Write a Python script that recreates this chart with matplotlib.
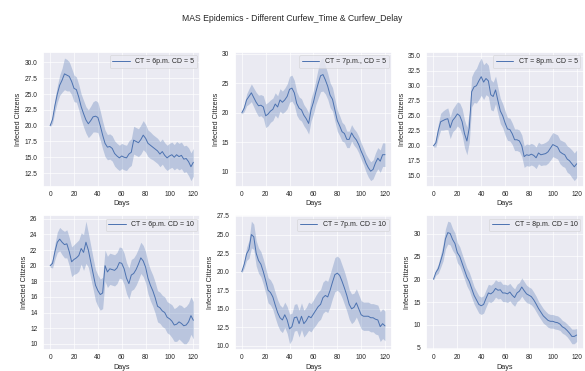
import numpy as np
import matplotlib
matplotlib.use("Agg")
import matplotlib.pyplot as plt
from matplotlib.ticker import MultipleLocator
import seaborn as sns

days = list(range(0, 121, 2))

labels = ["CT = 6p.m. CD = 5", "CT = 7p.m., CD = 5", "CT = 8p.m. CD = 5",
          "CT = 6p.m. CD = 10", "CT = 7p.m. CD = 10", "CT = 8p.m. CD = 10"]

# mean infected citizens (every second day)
ct6_cd5 = [20.0, 21.0, 23.2, 25.0, 26.4, 27.2, 28.2, 28.0, 27.8, 27.0,
           25.9, 25.7, 24.5, 23.0, 21.9, 20.9, 20.3, 20.8, 21.4, 21.5,
           21.3, 20.0, 18.5, 17.2, 16.6, 16.7, 16.4, 15.6, 15.2, 14.9,
           15.2, 15.0, 14.9, 15.5, 15.8, 17.7, 17.5, 17.3, 17.8, 18.5,
           18.0, 17.2, 16.9, 16.6, 16.3, 16.0, 15.5, 15.9, 15.3, 14.9,
           15.2, 15.4, 15.0, 15.4, 15.1, 15.3, 14.7, 14.8, 14.3, 13.5, 14.2]
ct7_cd5 = [20.0, 20.8, 22.2, 22.8, 23.4, 22.6, 21.8, 21.2, 21.3, 21.0,
           19.5, 19.8, 20.3, 20.6, 21.5, 21.0, 22.2, 21.8, 22.2, 22.8,
           24.0, 24.2, 23.4, 21.6, 20.8, 20.5, 19.6, 19.0, 18.2, 20.5,
           21.8, 23.5, 25.0, 26.3, 26.5, 25.6, 24.5, 23.0, 22.3, 20.5,
           18.7, 17.8, 16.8, 16.5, 15.5, 15.5, 16.6, 15.9, 15.4, 14.6,
           13.5, 12.6, 11.5, 10.7, 10.1, 10.4, 11.5, 12.3, 11.8, 12.9, 12.9]
ct8_cd5 = [20.0, 20.5, 22.5, 24.0, 24.2, 24.4, 24.5, 23.0, 24.2, 24.7,
           25.3, 25.0, 24.0, 22.0, 20.8, 23.0, 29.0, 29.8, 30.0, 30.8,
           31.5, 30.6, 31.2, 30.8, 28.5, 28.2, 29.3, 27.5, 25.8, 25.0,
           23.8, 22.8, 22.7, 22.0, 21.0, 21.0, 20.8, 20.0, 18.2, 18.5,
           18.4, 18.6, 18.4, 18.0, 18.8, 18.5, 18.6, 18.7, 19.0, 19.6,
           20.2, 20.0, 19.8, 19.0, 18.7, 18.5, 17.8, 17.5, 17.0, 16.5, 17.0]
ct6_cd10 = [20.0, 20.3, 21.8, 23.0, 23.4, 23.0, 22.7, 22.8, 21.8, 20.5,
            20.8, 21.0, 21.3, 22.2, 21.7, 23.0, 22.0, 20.5, 19.0, 17.5,
            16.8, 16.3, 16.5, 20.0, 19.2, 19.6, 19.5, 19.4, 19.7, 20.4,
            20.3, 19.6, 18.4, 17.7, 18.8, 19.0, 19.5, 20.2, 21.0, 20.6,
            19.8, 18.4, 17.5, 16.8, 15.9, 14.8, 14.6, 14.2, 14.0, 13.4,
            13.2, 12.9, 12.4, 12.5, 12.8, 12.6, 12.3, 12.4, 12.8, 13.6, 13.0]
ct7_cd10 = [20.0, 21.0, 22.4, 23.0, 25.0, 24.7, 22.5, 21.5, 21.0, 20.0,
            18.8, 17.5, 17.2, 16.6, 15.5, 14.5, 13.8, 13.5, 14.2, 13.5,
            12.3, 12.6, 13.8, 13.9, 13.0, 14.0, 13.0, 13.4, 14.0, 13.8,
            14.3, 14.8, 15.3, 15.6, 16.5, 16.8, 16.6, 17.5, 18.6, 19.6,
            19.8, 19.5, 18.7, 17.8, 16.8, 15.6, 15.0, 15.2, 15.8, 15.0,
            14.2, 14.0, 14.0, 14.0, 13.8, 13.8, 13.6, 13.5, 12.6, 13.0, 12.7]
ct8_cd10 = [20.0, 21.5, 22.3, 24.0, 25.8, 28.8, 30.2, 30.0, 28.7, 27.8,
            25.8, 25.0, 23.5, 22.0, 20.5, 19.5, 18.0, 16.5, 15.5, 14.5,
            14.2, 14.5, 15.8, 17.0, 16.8, 17.2, 18.0, 17.6, 17.7, 17.0,
            17.0, 16.8, 17.2, 16.5, 16.0, 17.0, 17.4, 18.3, 17.5, 16.8,
            16.5, 16.2, 15.5, 14.6, 13.6, 12.8, 12.0, 11.5, 11.0, 10.8,
            10.8, 10.6, 10.5, 10.2, 9.6, 9.3, 8.8, 8.2, 7.5, 7.5, 7.8]

# half width of the confidence band
hw_ct6_cd5 = [0.2, 0.6, 1.0, 1.3, 1.6, 1.9, 2.5, 2.5, 2.3, 2.1,
              2.1, 2.0, 2.0, 2.0, 2.1, 2.1, 2.2, 2.3, 2.4, 2.5,
              2.4, 2.3, 2.2, 2.1, 2.0, 2.0, 2.0, 2.0, 2.0, 2.0,
              2.0, 2.0, 2.0, 2.1, 2.1, 2.2, 2.2, 2.2, 2.3, 2.3,
              2.2, 2.1, 2.1, 2.0, 2.0, 2.0, 2.0, 2.0, 2.0, 2.0,
              2.0, 2.0, 2.0, 2.1, 2.1, 2.1, 2.1, 2.1, 2.2, 2.2, 2.2]
hw_ct7_cd5 = [0.2, 0.6, 1.0, 1.3, 1.5, 1.6, 1.7, 1.8, 1.8, 1.9,
              2.0, 2.0, 1.9, 1.9, 1.9, 1.9, 1.9, 1.9, 2.0, 2.1,
              2.2, 2.2, 2.1, 2.0, 1.9, 1.9, 1.8, 1.8, 1.8, 1.9,
              2.0, 2.1, 2.5, 2.7, 2.8, 2.4, 2.2, 2.1, 2.0, 1.9,
              1.8, 1.7, 1.6, 1.5, 1.4, 1.4, 1.4, 1.4, 1.4, 1.4,
              1.4, 1.4, 1.5, 1.6, 1.6, 1.6, 1.7, 1.8, 1.9, 2.0, 2.0]
hw_ct8_cd5 = [0.2, 0.7, 1.1, 1.4, 1.6, 1.7, 1.8, 1.8, 1.9, 2.0,
              2.0, 2.1, 2.2, 2.3, 2.3, 2.4, 2.5, 2.6, 2.9, 3.1,
              3.1, 2.9, 2.7, 2.6, 2.5, 2.4, 2.3, 2.2, 2.1, 2.0,
              2.0, 1.9, 1.9, 1.8, 1.8, 1.8, 1.8, 1.8, 1.8, 1.8,
              1.8, 1.8, 1.8, 1.8, 1.8, 1.8, 1.8, 1.9, 1.9, 2.0,
              2.0, 2.0, 2.0, 2.0, 2.1, 2.1, 2.2, 2.2, 2.3, 2.3, 2.3]
hw_ct6_cd10 = [0.2, 0.6, 1.0, 1.3, 1.5, 1.6, 1.7, 1.8, 1.8, 1.9,
               1.9, 2.0, 2.0, 2.0, 2.3, 2.7, 2.2, 2.1, 2.0, 2.0,
               2.0, 2.0, 2.0, 2.0, 2.0, 2.0, 2.0, 2.0, 2.0, 2.0,
               2.0, 2.0, 2.0, 2.0, 2.0, 2.0, 2.0, 2.0, 2.0, 2.0,
               2.0, 2.0, 2.0, 2.0, 2.0, 2.0, 2.0, 2.0, 2.0, 2.0,
               2.0, 2.1, 2.1, 2.2, 2.2, 2.3, 2.3, 2.4, 2.4, 2.4, 2.4]
hw_ct7_cd10 = [0.2, 0.5, 0.9, 1.2, 1.8, 1.7, 1.7, 1.7, 1.7, 1.7,
               1.7, 1.7, 1.7, 1.7, 1.7, 1.7, 1.7, 1.7, 1.7, 1.8,
               2.0, 1.8, 1.8, 1.8, 1.8, 1.8, 1.8, 1.8, 1.9, 1.9,
               1.9, 2.0, 2.0, 2.0, 2.1, 2.1, 2.1, 2.2, 2.2, 2.3,
               2.3, 2.3, 2.2, 2.2, 2.1, 2.0, 2.0, 1.9, 1.9, 1.9,
               1.9, 1.9, 1.9, 1.9, 1.9, 1.9, 2.0, 2.0, 2.0, 2.0, 2.0]
hw_ct8_cd10 = [0.2, 0.6, 1.0, 1.4, 1.8, 2.2, 2.5, 2.5, 2.4, 2.3,
               2.2, 2.1, 2.0, 2.0, 2.0, 2.0, 2.0, 1.9, 1.9, 1.9,
               1.9, 1.9, 1.9, 1.9, 1.9, 1.9, 1.9, 1.9, 1.9, 1.9,
               1.9, 1.9, 1.9, 1.9, 1.9, 1.9, 1.9, 2.0, 2.0, 1.9,
               1.8, 1.8, 1.7, 1.7, 1.6, 1.6, 1.6, 1.5, 1.5, 1.5,
               1.5, 1.5, 1.5, 1.4, 1.4, 1.4, 1.4, 1.5, 1.6, 1.6, 1.4]

means = [ct6_cd5, ct7_cd5, ct8_cd5, ct6_cd10, ct7_cd10, ct8_cd10]
bands = [hw_ct6_cd5, hw_ct7_cd5, hw_ct8_cd5, hw_ct6_cd10, hw_ct7_cd10, hw_ct8_cd10]
ystep = [2.5, 5, 2.5, 2, 2.5, 5]

sns.set_theme(style="darkgrid")
plt.rcParams['font.family'] = ['Liberation Sans', 'DejaVu Sans']
plt.rcParams['xtick.major.size'] = 0
plt.rcParams['ytick.major.size'] = 0
plt.rcParams['xtick.major.pad'] = 3.3
plt.rcParams['ytick.major.pad'] = 4.0
plt.rcParams['axes.labelpad'] = 1.5
plt.rcParams['grid.linewidth'] = 0.45

fig, axs = plt.subplots(2, 3, figsize=(5.85, 3.71), dpi=100)
fig.subplots_adjust(left=0.0735, right=0.998, top=0.86, bottom=0.057,
                    wspace=0.217, hspace=0.21)
fig.suptitle("MAS Epidemics - Different Curfew_Time & Curfew_Delay",
             fontsize=6.2, y=0.962)

blue = sns.color_palette()[0]
for ax, m, hw, lab, st in zip(axs.flat, means, bands, labels, ystep):
    m = np.array(m)
    hw = np.array(hw)
    ax.fill_between(days, m - hw, m + hw, color=blue, alpha=0.3, lw=0)
    ax.plot(days, m, color=blue, lw=0.7, label=lab)
    ax.set_xlabel("Days", fontsize=5.2)
    ax.set_ylabel("Infected Citizens", fontsize=5.2)
    ax.set_xticks([0, 20, 40, 60, 80, 100, 120])
    ax.yaxis.set_major_locator(MultipleLocator(st))
    ax.tick_params(labelsize=4.8)
    ax.legend(loc="upper right", fontsize=5.0, handlelength=2.5,
              borderpad=0.4, frameon=True)
    ax.get_legend().get_frame().set_linewidth(0.4)

plt.savefig("out.png", dpi=100)
